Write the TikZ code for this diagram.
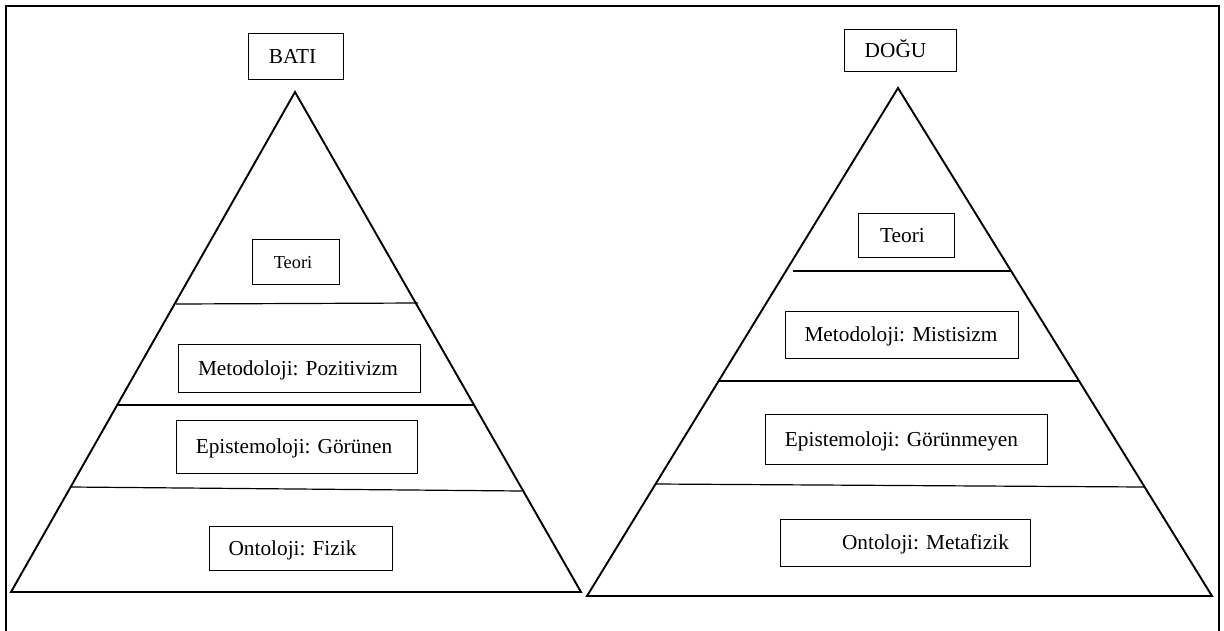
\documentclass[tikz,border=0pt]{standalone}
\usepackage{fontspec}
\setmainfont{Liberation Serif}
\begin{document}
\begin{tikzpicture}[x=1pt,y=-1pt,
  frame/.style={line width=2.4pt},
  tri/.style={line width=1.9pt, line join=miter},
  layer/.style={line width=1.2pt},
  box/.style={draw, line width=0.9pt, inner sep=0pt},
  txt/.style={inner sep=0pt, anchor=base, font=\fontsize{21.3}{25}\selectfont},
  stxt/.style={inner sep=0pt, anchor=base, font=\fontsize{18.3}{22}\selectfont}]
\useasboundingbox (0,0) rectangle (1224,630);
% frame
\coordinate (f1) at (6,632);
\coordinate (f2) at (6,6);
\coordinate (f3) at (1219,6);
\coordinate (f4) at (1219,632);
\draw[frame] (f1) -- (f2) -- (f3) -- (f4);

% ---------- left pyramid (BATI)
\coordinate (lA) at (295,92);
\coordinate (lL) at (11,592);
\coordinate (lR) at (581,592);
\draw[tri] (lA) -- (lL) -- (lR) -- cycle;
\coordinate (l1a) at (176,304); \coordinate (l1b) at (418,303);
\coordinate (l2a) at (118,405); \coordinate (l2b) at (473,405);
\coordinate (l3a) at (71,487);  \coordinate (l3b) at (522,491);
\draw[layer] (l1a) -- (l1b);
\draw[layer] (l2a) -- (l2b);
\draw[layer] (l3a) -- (l3b);

\node[box, minimum width=95pt, minimum height=46pt] (bati) at (295.5,56) {};
\node[txt] (batit) at (292.5,63.5) {BATI};
\node[box, minimum width=87pt, minimum height=45pt] (lteo) at (295.5,261.5) {};
\node[stxt] (lteot) at (293,268) {Teori};
\node[box, minimum width=242pt, minimum height=48pt] (lmet) at (299,368) {};
\node[txt] (lmett) at (298,375) {Metodoloji: Pozitivizm};
\node[box, minimum width=241pt, minimum height=53pt] (lepi) at (297,446.5) {};
\node[txt] (lepit) at (294,453.5) {Epistemoloji: Görünen};
\node[box, minimum width=183pt, minimum height=44pt] (lont) at (300.5,548) {};
\node[txt] (lontt) at (292.5,555) {Ontoloji: Fizik};

% ---------- right pyramid (DOĞU)
\coordinate (rA) at (898,88);
\coordinate (rL) at (587,596);
\coordinate (rR) at (1212,596);
\draw[tri] (rA) -- (rL) -- (rR) -- cycle;
\coordinate (r1a) at (793,271); \coordinate (r1b) at (1011,271);
\coordinate (r2a) at (719,381); \coordinate (r2b) at (1079,381);
\coordinate (r3a) at (656,484); \coordinate (r3b) at (1144,487);
\draw[layer] (r1a) -- (r1b);
\draw[layer] (r2a) -- (r2b);
\draw[layer] (r3a) -- (r3b);

\node[box, minimum width=112pt, minimum height=42pt] (dogu) at (900,50) {};
\node[txt] (dogut) at (895.5,57.5) {DOĞU};
\node[box, minimum width=96pt, minimum height=44pt] (rteo) at (906.5,235) {};
\node[txt] (rteot) at (902.5,242) {Teori};
\node[box, minimum width=233pt, minimum height=47pt] (rmet) at (901.5,334.5) {};
\node[txt] (rmett) at (901,341.5) {Metodoloji: Mistisizm};
\node[box, minimum width=282pt, minimum height=50pt] (repi) at (906,439) {};
\node[txt] (repit) at (901.5,446) {Epistemoloji: Görünmeyen};
\node[box, minimum width=250pt, minimum height=47pt] (ront) at (905,542.5) {};
\node[txt] (rontt) at (925.5,549.5) {Ontoloji: Metafizik};
\end{tikzpicture}
\end{document}
